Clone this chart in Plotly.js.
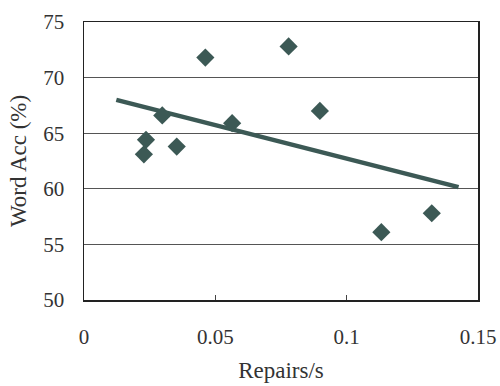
<!DOCTYPE html>
<html><head><meta charset="utf-8">
<script src="https://cdn.plot.ly/plotly-3.0.1.min.js"></script>
<style>body{margin:0;background:#fff}#c{width:500px;height:386px}</style>
</head><body><div id="c"></div>
<script>
const repairs = [0.0228, 0.0236, 0.0298, 0.0353, 0.0462, 0.0564, 0.0779, 0.0898, 0.1132, 0.1324];
const wordAcc = [63.1, 64.4, 66.6, 63.8, 71.8, 65.9, 72.8, 67.0, 56.1, 57.8];
const trendX = [0.0123, 0.1426];
const trendY = [68.0, 60.15];
const xTicks = [0, 0.05, 0.1, 0.15];
const xTickText = ['0', '0.05', '0.1', '0.15'];
const yTicks = [50, 55, 60, 65, 70, 75];

const col = '#3c5955';
const data = [
  {x: trendX, y: trendY, mode: 'lines', line: {color: col, width: 4.5}, hoverinfo: 'skip'},
  {x: repairs, y: wordAcc, mode: 'markers', marker: {symbol: 'diamond', size: 14, color: col}}
];
const serif = 'Liberation Serif, Times New Roman, serif';
const layout = {
  width: 500, height: 386,
  margin: {l: 84, r: 22, t: 22, b: 86},
  paper_bgcolor: '#fff', plot_bgcolor: '#fff',
  showlegend: false,
  font: {family: serif, color: '#333', size: 16},
  xaxis: {
    range: [0, 0.15], tickvals: xTicks, ticktext: xTickText,
    showgrid: false, zeroline: false,
    showline: true, linecolor: '#222', linewidth: 1.5, mirror: true,
    ticks: 'inside', ticklen: 5, tickcolor: '#444',
    ticklabelstandoff: 17,
    tickfont: {family: serif, size: 21, color: '#333'},
    title: {text: 'Repairs/s', font: {family: serif, size: 23, color: '#333'}, standoff: 14}
  },
  yaxis: {
    range: [50, 75], tickvals: yTicks,
    showgrid: true, gridcolor: '#555', gridwidth: 1,
    zeroline: false,
    showline: true, linecolor: '#222', linewidth: 1.5, mirror: true,
    ticks: '', ticklabelstandoff: 14,
    tickfont: {family: serif, size: 21, color: '#333'},
    title: {text: 'Word Acc (%)', font: {family: serif, size: 23, color: '#333'}, standoff: 10}
  }
};
Plotly.newPlot('c', data, layout, {displayModeBar: false, staticPlot: true});
</script></body></html>
